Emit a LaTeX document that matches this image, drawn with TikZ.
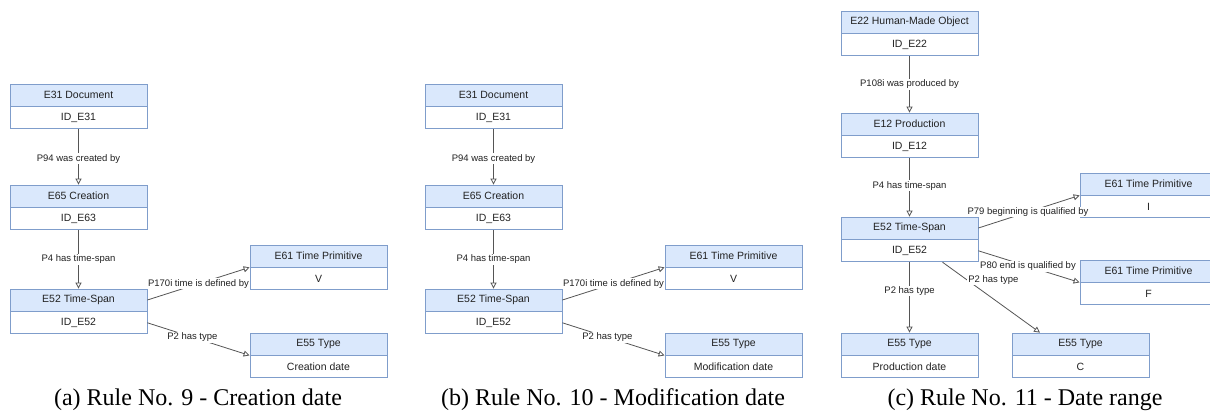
\documentclass[tikz,border=0pt]{standalone}
\usepackage{fontspec}
\setmainfont{Liberation Sans}
\newfontfamily\capfont{Liberation Serif}
\usetikzlibrary{arrows.meta,positioning}
\definecolor{hdrfill}{HTML}{DAE8FC}
\definecolor{bordc}{HTML}{7F9DCB}
\definecolor{edgec}{HTML}{555555}
\definecolor{txtc}{HTML}{222222}
\newcommand\mkbox[4]{%
  \node[hdr] (#1) at (#2) {#3};
  \node[bdy,anchor=north] (#1b) at (#1.south) {#4};}
\begin{document}
\begin{tikzpicture}[x=1pt,y=-1pt,
  hdr/.style={draw=bordc, fill=hdrfill, line width=0.8pt, minimum width=137pt, minimum height=22pt, inner sep=0pt, font=\fontsize{10.5}{12}\selectfont, text=txtc},
  bdy/.style={draw=bordc, fill=white, line width=0.8pt, minimum width=137pt, minimum height=22pt, inner sep=0pt, font=\fontsize{10.5}{12}\selectfont, text=txtc},
  rel/.style={draw=edgec, line width=0.8pt, -{Triangle[open,length=6pt,width=6pt]}},
  lbl/.style={fill=white, inner sep=1pt, font=\fontsize{9.5}{11}\selectfont, text=txtc},
  captxt/.style={font=\capfont\fontsize{24}{28}\selectfont, anchor=base, text=black}]
\clip (0,0) rectangle (1210,420);
\fill[white] (0,0) rectangle (1210,420);

% ---------- panel (a)
\mkbox{a1}{78.5,95}{E31 Document}{ID\_E31}
\mkbox{a2}{78.5,196}{E65 Creation}{ID\_E63}
\mkbox{a3}{78.5,300}{E52 Time-Span}{ID\_E52}
\mkbox{a4}{318.5,256}{E61 Time Primitive}{V}
\mkbox{a5}{318.5,344}{E55 Type}{Creation date}
\draw[rel] (a1b) -- node[lbl,pos=0.53]{P94 was created by} (a2);
\draw[rel] (a2b) -- node[lbl,pos=0.5]{P4 has time-span} (a3);
\draw[rel] (a3.east) -- node[lbl,pos=0.5]{P170i time is defined by} (a4.south west);
\draw[rel] (a3b.east) -- node[lbl,pos=0.44]{P2 has type} (a5.south west);
\node[captxt] (capa) at (198,405) {(a) Rule No. 9 - Creation date};

% ---------- panel (b)
\mkbox{b1}{493.5,95}{E31 Document}{ID\_E31}
\mkbox{b2}{493.5,196}{E65 Creation}{ID\_E63}
\mkbox{b3}{493.5,300}{E52 Time-Span}{ID\_E52}
\mkbox{b4}{733.5,256}{E61 Time Primitive}{V}
\mkbox{b5}{733.5,344}{E55 Type}{Modification date}
\draw[rel] (b1b) -- node[lbl,pos=0.53]{P94 was created by} (b2);
\draw[rel] (b2b) -- node[lbl,pos=0.5]{P4 has time-span} (b3);
\draw[rel] (b3.east) -- node[lbl,pos=0.5]{P170i time is defined by} (b4.south west);
\draw[rel] (b3b.east) -- node[lbl,pos=0.44]{P2 has type} (b5.south west);
\node[captxt] (capb) at (613,405) {(b) Rule No. 10 - Modification date};

% ---------- panel (c)
\mkbox{c1}{909.5,22}{E22 Human-Made Object}{ID\_E22}
\mkbox{c2}{909.5,124}{E12 Production}{ID\_E12}
\mkbox{c3}{909.5,228}{E52 Time-Span}{ID\_E52}
\mkbox{c4}{1148.5,184}{E61 Time Primitive}{I}
\mkbox{c5}{1148.5,271}{E61 Time Primitive}{F}
\mkbox{c6}{909.5,344}{E55 Type}{Production date}
\mkbox{c7}{1080.5,344}{E55 Type}{C}
\draw[rel] (c1b) -- node[lbl,pos=0.5]{P108i was produced by} (c2);
\draw[rel] (c2b) -- node[lbl,pos=0.47]{P4 has time-span} (c3);
\draw[rel] (c3.east) -- node[lbl,pos=0.49]{P79 beginning is qualified by} (c4.south west);
\draw[rel] (c3b.east) -- node[lbl,pos=0.49]{P80 end is qualified by} (c5.south west);
\draw[rel] (c3b) -- node[lbl,pos=0.41]{P2 has type} (c6);
\draw[rel] ([xshift=33pt]c3b.south) -- node[lbl,pos=0.25,anchor=west]{P2 has type} ([xshift=-40.5pt]c7.north);
\node[captxt] (capc) at (1025,405) {(c) Rule No. 11 - Date range};
\end{tikzpicture}
\end{document}
